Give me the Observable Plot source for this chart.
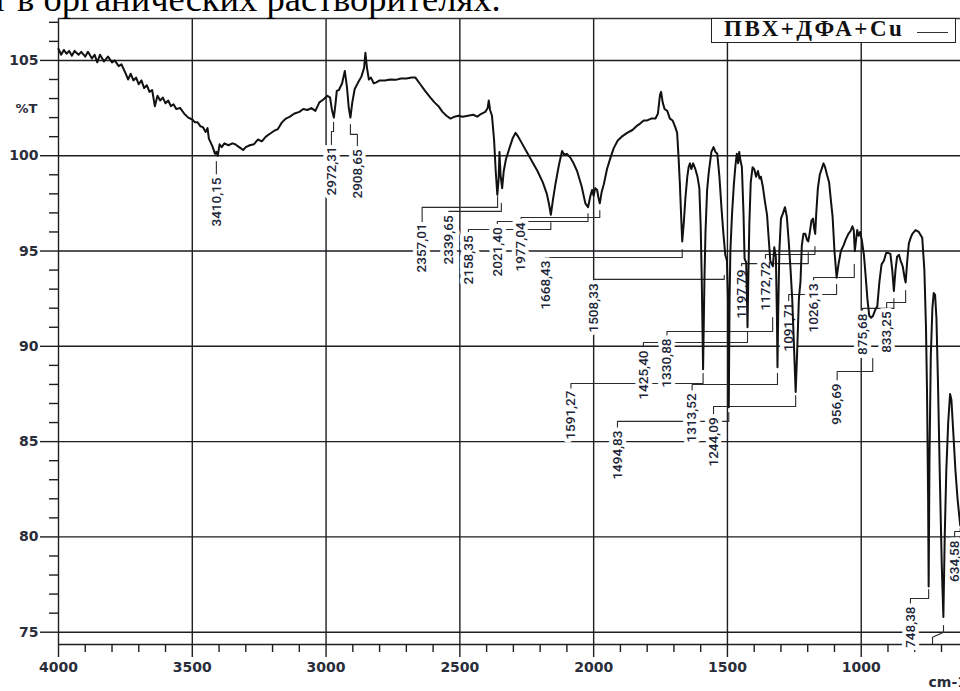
<!DOCTYPE html>
<html><head><meta charset="utf-8">
<script src="https://cdn.jsdelivr.net/npm/d3@7"></script>
<script src="https://cdn.jsdelivr.net/npm/@observablehq/plot@0.6"></script>
<style>
html,body{margin:0;padding:0;background:#fff;overflow:hidden}
#wrap{position:relative;width:960px;height:691px;overflow:hidden}
#title{position:absolute;left:-8px;top:-19px;font-family:"Liberation Serif","Times New Roman",serif;font-size:36.5px;line-height:36px;white-space:nowrap;color:#000}
#legend{position:absolute;left:711px;top:18px;width:245px;height:25px;box-sizing:border-box;border:1.5px solid #222;background:#fff}
#legend .t{position:absolute;left:12px;top:-2.5px;font-family:"Liberation Serif","Times New Roman",serif;font-weight:bold;font-size:23px;line-height:23px;letter-spacing:2.5px;color:#111;white-space:nowrap}
#legend .s{position:absolute;left:205px;top:13px;width:31px;border-top:1.3px solid #333}
</style></head>
<body>
<div id="wrap"><div id="chart"></div>
<div id="title">т в органических растворителях.</div>
<div id="legend"><span class="t">ПВХ+ДФА+Cu</span><div class="s"></div></div>
</div>
<script>
// ---- spectrum (wavenumber, cm-1 / transmittance, %T) ----
const wavenumbers = [4000,3990,3980,3970,3960,3950,3940,3925,3915,3900,3890,3875,3865,3855,3845,3830,3815,3800,3790,3775,3765,3750,3740,3730,3720,3710,3700,3690,3680,3670,3660,3650,3640,3630,3620,3610,3600,3590,3580,3570,3560,3545,3530,3515,3500,3490,3480,3470,3460,3450,3443,3438,3425,3415,3410,3405,3398,3390,3380,3365,3350,3340,3325,3310,3300,3285,3270,3255,3240,3225,3210,3195,3180,3165,3150,3135,3120,3100,3085,3070,3055,3040,3025,3010,2995,2985,2978,2971,2965,2960,2952,2940,2930,2922,2915,2909,2902,2893,2880,2868,2858,2853,2847,2840,2832,2822,2812,2800,2780,2760,2740,2720,2700,2680,2666,2648,2630,2610,2595,2580,2565,2550,2535,2520,2505,2490,2470,2450,2435,2420,2405,2396,2392,2387,2380,2372,2366,2360,2355,2352,2348,2342,2336,2328,2317,2303,2292,2282,2270,2250,2230,2210,2190,2175,2166,2160,2152,2143,2130,2118,2110,2100,2087,2075,2062,2045,2031,2021,2012,2006,2000,1994,1987,1982,1977,1970,1962,1950,1937,1925,1910,1895,1875,1855,1840,1825,1813,1800,1785,1769,1760,1752,1748,1742,1735,1725,1715,1705,1695,1688,1683,1678,1672,1669,1663,1657,1650,1645,1640,1635,1628,1620,1612,1605,1600,1596,1591,1586,1582,1576,1570,1560,1552,1545,1538,1530,1522,1515,1508,1502,1497,1495,1492,1489,1483,1476,1470,1465,1460,1456,1452,1446,1440,1436,1430,1427,1425,1422,1418,1413,1406,1400,1393,1386,1380,1375,1368,1360,1352,1345,1340,1334,1330,1325,1319,1315,1313,1310,1306,1300,1292,1285,1278,1271,1264,1258,1250,1245,1240,1233,1227,1222,1216,1209,1203,1198,1193,1186,1180,1176,1172,1168,1162,1155,1148,1141,1135,1128,1120,1113,1107,1100,1092,1085,1076,1066,1058,1048,1040,1033,1028,1024,1020,1015,1010,1004,998,990,983,977,970,963,956,948,940,932,924,915,907,900,891,884,878,872,866,859,853,845,838,834,828,822,815,809,797,785,772,764,758,754,750,748,745,740,734,729,724,719,713,706,699,693,688,682,675,668,663,656,648,640,630];
const transmittance = [105.6,105.3,105.55,105.35,105.5,105.25,105.5,105.3,105.45,105.2,105.45,105.1,105.3,104.9,105.3,104.95,105.2,104.9,105.0,104.7,104.8,104.35,104.0,104.3,103.95,104.1,103.75,103.95,103.55,103.7,103.35,103.45,102.6,103.15,102.9,103.05,102.75,102.9,102.6,102.7,102.45,102.5,102.2,102.0,101.9,101.75,101.75,101.55,101.5,101.25,101.45,100.9,100.5,100.1,100.2,100.0,100.6,100.45,100.65,100.55,100.65,100.6,100.45,100.3,100.45,100.55,100.6,100.85,100.75,101.0,101.15,101.3,101.4,101.75,101.95,102.05,102.2,102.3,102.45,102.4,102.5,102.35,102.8,102.95,103.15,103.05,102.4,102.0,102.7,103.4,103.45,103.8,104.45,103.6,102.5,102.0,102.8,103.5,103.85,104.15,104.6,105.4,104.6,104.0,104.1,103.8,103.85,103.95,103.95,104.0,103.98,104.05,104.05,104.1,104.1,103.75,103.4,103.05,102.8,102.6,102.3,102.1,101.95,102.05,102.1,102.05,102.1,102.15,102.05,102.2,102.3,102.5,102.9,102.4,102.1,100.8,99.2,97.95,98.8,100.2,99.0,98.3,99.2,99.8,100.3,100.9,101.2,101.0,100.7,100.2,99.7,99.2,98.6,98.0,97.4,96.9,97.7,98.5,99.5,100.25,100.05,100.1,99.9,99.6,99.2,98.4,97.5,97.3,97.9,98.2,97.9,98.3,98.2,97.8,97.5,98.1,98.5,99.3,99.9,100.4,100.8,101.0,101.2,101.35,101.55,101.7,101.85,101.85,101.95,101.95,102.2,103.2,103.35,102.8,102.45,102.35,101.95,101.85,101.5,101.2,100.0,98.6,96.5,95.5,96.5,97.8,98.9,99.4,99.6,99.3,99.6,99.3,98.9,98.3,96.3,93.5,88.8,93.5,96.0,98.2,99.1,100.2,100.45,100.2,100.1,98.9,97.2,95.9,94.8,94.5,92.0,86.8,92.5,95.0,96.9,98.5,99.5,100.1,99.6,100.2,99.8,99.4,97.0,94.6,94.4,92.5,91.0,93.5,96.5,98.6,99.4,99.3,98.9,99.2,98.8,98.9,98.4,97.6,96.9,95.5,94.5,94.3,94.2,95.2,94.7,91.5,88.9,92.0,95.0,96.7,97.0,97.3,96.8,95.5,94.0,92.5,89.5,87.6,89.5,92.5,93.4,95.3,95.9,95.9,95.6,95.5,95.9,96.6,96.7,96.2,95.9,97.0,98.3,99.0,99.3,99.6,99.4,99.0,98.6,97.6,96.8,95.0,93.6,94.3,95.0,95.3,95.6,95.9,96.05,96.3,96.1,95.0,95.5,96.1,95.8,96.0,95.6,94.8,93.6,92.5,91.6,91.5,91.6,91.9,92.1,93.4,94.3,94.5,94.9,94.9,94.85,94.0,92.9,94.0,94.7,94.8,94.5,94.2,93.6,93.35,94.5,95.4,95.7,95.9,96.1,96.0,95.7,94.0,91.0,87.5,82.0,77.4,84.0,89.5,92.0,92.8,92.7,91.5,88.0,83.0,78.5,75.8,80.0,83.5,86.0,87.5,87.2,85.5,83.5,82.0,80.6];

// ---- peak labels and their leader lines (cm-1 / %T) ----
const peakLabels = ["3410,15","2972,31","2908,65","2357,01","2339,65","2158,35","2021,40","1977,04","1668,43","1508,33","1591,27","1425,40","1330,88","1313,52","1494,83","1244,09","1197,79","1172,72","1091,71","1026,13","956,69","875,68","833,25","748,38","634,58"];
const labelX    = [3410,2980,2883,2641,2541,2468,2360,2271,2180,2000,2085,1814,1726,1632,1911,1552,1447,1358,1271,1178,1090,995,905,816,651];
const labelTop  = [98.86,100.49,100.33,96.45,96.87,95.82,96.24,96.50,94.50,93.30,87.68,89.78,90.41,87.53,85.58,86.27,94.03,94.45,92.30,93.30,88.05,91.72,91.83,76.35,79.81];
const bendY     = [98.86,101.27,101.12,97.29,97.08,96.13,96.55,96.76,94.66,93.51,88.05,90.20,90.78,88.00,86.06,86.84,94.34,94.82,92.72,93.61,88.68,91.99,92.30,76.77,80.28];
const peakX     = [3410,2972,2909,2359,2345,2160,2021,1977,1669,1512,1591,1425,1331,1313,1495,1245,1198,1173,1092,1026,957,878,834,748,630];
const leaderEnd = [99.70,101.75,101.64,97.86,97.50,96.50,96.97,97.13,95.08,93.72,88.58,90.78,91.51,88.58,86.53,87.42,94.92,95.24,93.25,94.30,89.36,92.51,92.93,77.24,80.44];
const extraLeaderX = [692.5,692.5,733.5,733.5];
const extraLeaderY = [75.35,75.0,74.74,74.41];

// ---- axes ----
const xMajor = [4000,3500,3000,2500,2000,1500,1000];
const xMinor = [3900,3800,3700,3600,3400,3300,3200,3100,2900,2800,2700,2600,2400,2300,2200,2100,1900,1800,1700,1600,1400,1300,1200,1100,900,800,700];
const yMajor = [105,100,95,90,85,80,75];
const yMinor = [76,77,78,79,81,82,83,84,86,87,88,89,91,92,93,94,96,97,98,99,101,102,103,104,106,107];
const xDomain = [4000, 629];
const yDomain = [74.355, 107.2];

const spectrum = wavenumbers.map((x, i) => ({x, y: transmittance[i]}));
const labelData = peakLabels.map((t, i) => ({t, x: labelX[i], y: labelTop[i]}));
const leaders = peakLabels.flatMap((t, i) => [
  {k: t, x: labelX[i], y: labelTop[i]},
  {k: t, x: labelX[i], y: bendY[i]},
  {k: t, x: peakX[i], y: bendY[i]},
  {k: t, x: peakX[i], y: leaderEnd[i]}
]).concat(extraLeaderX.map((x, i) => ({k: "extra", x, y: extraLeaderY[i]})));

const tickFont = "DejaVu Sans, Verdana, sans-serif";
const ink = "#1d1d22";

const chart = Plot.plot({
  width: 960, height: 691,
  marginLeft: 58, marginRight: 0, marginTop: 18, marginBottom: 47,
  x: {domain: xDomain},
  y: {domain: yDomain},
  style: {background: "transparent", overflow: "hidden"},
  marks: [
    Plot.ruleX(xMajor, {stroke: ink, strokeWidth: 1.4}),
    Plot.ruleY(yMajor, {stroke: ink, strokeWidth: 1.4}),
    Plot.ruleY([yDomain[1]], {stroke: "#333", strokeWidth: 1.3}),
    Plot.ruleY([yDomain[0]], {stroke: ink, strokeWidth: 1.4}),
    Plot.axisX(xMinor, {anchor: "bottom", tickSize: 8, tickFormat: () => "", label: null, stroke: ink, strokeWidth: 1.4}),
    Plot.axisX(xMajor, {anchor: "bottom", tickSize: 13, tickPadding: 5, tickFormat: d => String(d), label: null,
      stroke: ink, strokeWidth: 1.4, fill: "#2a2d3a", fontSize: 14, fontWeight: "bold", fontFamily: tickFont}),
    Plot.axisY(yMinor, {anchor: "left", tickSize: 9, tickFormat: () => "", label: null, stroke: ink, strokeWidth: 1.4}),
    Plot.axisY(yMajor, {anchor: "left", tickSize: 18, tickPadding: 2, tickFormat: d => String(d), label: null,
      stroke: ink, strokeWidth: 1.4, fill: "#2a2d3a", fontSize: 14, fontWeight: "bold", fontFamily: tickFont}),
    Plot.text(["%T"], {y: () => 102.47, text: d => d, frameAnchor: "left", dx: -21, textAnchor: "end",
      fill: "#2a2d3a", fontSize: 13, fontWeight: "bold", fontFamily: tickFont}),
    Plot.text(["cm-1"], {text: d => d, frameAnchor: "bottom-right", dx: -32, dy: 42, textAnchor: "start",
      fill: "#2a2d3a", fontSize: 14, fontWeight: "bold", fontFamily: tickFont}),
    Plot.line(leaders, {x: "x", y: "y", z: "k", stroke: "#2b2b2b", strokeWidth: 1.1, curve: "linear"}),
    Plot.text(labelData, {x: "x", y: "y", text: "t", rotate: -90, textAnchor: "end", lineAnchor: "middle",
      fontSize: 13.5, fontWeight: 500, fontFamily: "Roboto, sans-serif", fill: "#1c2638", stroke: "white", strokeWidth: 8}),
    Plot.line(spectrum, {x: "x", y: "y", stroke: "#111", strokeWidth: 2, strokeLinejoin: "round", curve: "linear"})
  ]
});
document.getElementById("chart").appendChild(chart);
</script>
</body></html>
